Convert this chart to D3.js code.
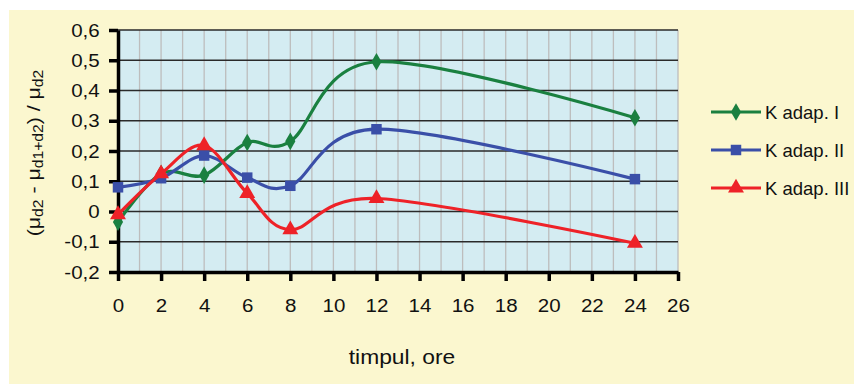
<!DOCTYPE html>
<html>
<head>
<meta charset="utf-8">
<script src="https://cdn.jsdelivr.net/npm/d3@7"></script>
<style>
  html, body { margin: 0; padding: 0; background: #fff; }
  text { font-family: "Liberation Sans", Arial, sans-serif; fill: #111; }
</style>
</head>
<body>
<div id="chart"></div>
<script>
// date
const hours = [0, 2, 4, 6, 8, 12, 24];
const seriesNames = ["K adap. I", "K adap. II", "K adap. III"];
const valuesI = [-0.035, 0.125, 0.12, 0.228, 0.232, 0.495, 0.31];
const valuesII = [0.08, 0.11, 0.185, 0.112, 0.085, 0.272, 0.107];
const valuesIII = [-0.01, 0.125, 0.218, 0.06, -0.06, 0.043, -0.105];
const xTicks = [0, 2, 4, 6, 8, 10, 12, 14, 16, 18, 20, 22, 24, 26];
const yTicks = [-0.2, -0.1, 0, 0.1, 0.2, 0.3, 0.4, 0.5, 0.6];

(function () {
    const width = 854;
    const height = 384;

    const svg = d3.select("#chart")
        .append("svg")
        .attr("width", width)
        .attr("height", height);

    // fundal crem
    svg.append("rect")
        .attr("x", 9).attr("y", 10)
        .attr("width", width - 9).attr("height", height - 10)
        .attr("fill", "#fbf7cf");

    const plot = { left: 118, right: 678, top: 30, bottom: 272 };

    const x = d3.scaleLinear().domain([0, 26]).range([plot.left, plot.right]);
    const y = d3.scaleLinear().domain([-0.2, 0.6]).range([plot.bottom, plot.top]);

    // zona graficului
    svg.append("rect")
        .attr("x", plot.left).attr("y", plot.top)
        .attr("width", plot.right - plot.left).attr("height", plot.bottom - plot.top)
        .attr("fill", "#d4ecf2");

    // grila verticala, la fiecare ora
    svg.append("g")
        .selectAll("line")
        .data(d3.range(1, 27))
        .enter().append("line")
        .attr("x1", d => x(d)).attr("x2", d => x(d))
        .attr("y1", plot.top).attr("y2", plot.bottom)
        .attr("stroke", "#bdbdbd")
        .attr("stroke-width", 1.3);

    // grila orizontala
    svg.append("g")
        .selectAll("line")
        .data(yTicks)
        .enter().append("line")
        .attr("x1", plot.left).attr("x2", plot.right)
        .attr("y1", d => y(d)).attr("y2", d => y(d))
        .attr("stroke", "#2a2a2a")
        .attr("stroke-width", 1.3);

    const fmt = d => d === 0 ? "0" : d.toFixed(1).replace(".", ",");

    // axa Y
    const yAxis = svg.append("g")
        .attr("transform", `translate(${plot.left},0)`)
        .call(d3.axisLeft(y).tickValues(yTicks).tickFormat(fmt).tickSize(9).tickSizeOuter(0).tickPadding(8));
    yAxis.select(".domain").attr("stroke", "#000").attr("stroke-width", 3.5);
    yAxis.selectAll(".tick line").attr("stroke", "#000").attr("stroke-width", 3.5);
    yAxis.selectAll(".tick text")
        .attr("font-size", 19)
        .attr("fill", "#111")
        .attr("transform", "scale(1.08,1)");

    // axa X
    const xAxis = svg.append("g")
        .attr("transform", `translate(0,${plot.bottom})`)
        .call(d3.axisBottom(x).tickValues(xTicks).tickSize(9).tickSizeOuter(0).tickPadding(18));
    xAxis.select(".domain").attr("stroke", "#000").attr("stroke-width", 3.5);
    xAxis.selectAll(".tick line").attr("stroke", "#000").attr("stroke-width", 3.5);
    xAxis.selectAll(".tick text")
        .attr("font-size", 19)
        .attr("fill", "#111")
        .attr("transform", "scale(1.08,1)");

    // seriile
    const series = [
        { name: seriesNames[0], values: valuesI, color: "#1a8040", symbol: d3.symbolDiamond, size: 90 },
        { name: seriesNames[1], values: valuesII, color: "#3a4fa8", symbol: d3.symbolSquare, size: 110 },
        { name: seriesNames[2], values: valuesIII, color: "#ee2228", symbol: d3.symbolTriangle, size: 110 }
    ];

    const line = d3.line()
        .x((d, i) => x(hours[i]))
        .y(d => y(d))
        .curve(d3.curveCardinal.tension(0));

    series.forEach(s => {
        svg.append("path")
            .datum(s.values)
            .attr("d", line)
            .attr("fill", "none")
            .attr("stroke", s.color)
            .attr("stroke-width", 3.2);

        svg.append("g")
            .selectAll("path")
            .data(s.values)
            .enter().append("path")
            .attr("transform", (d, i) => `translate(${x(hours[i])},${y(d)})`)
            .attr("d", d3.symbol().type(s.symbol).size(s.size))
            .attr("fill", s.color);
    });

    // legenda
    const legend = svg.append("g").attr("transform", "translate(711,112)");
    series.forEach((s, i) => {
        const row = legend.append("g").attr("transform", `translate(0,${i * 38})`);
        row.append("line")
            .attr("x1", 0).attr("x2", 50)
            .attr("stroke", s.color).attr("stroke-width", 3.2);
        row.append("path")
            .attr("transform", "translate(25,0)")
            .attr("d", d3.symbol().type(s.symbol).size(s.size))
            .attr("fill", s.color);
        row.append("text")
            .attr("x", 54).attr("y", 6.5)
            .attr("font-size", 18.5)
            .text(s.name);
    });

    // titlul axei X
    svg.append("text")
        .attr("transform", "translate(402,364) scale(1.14,1)")
        .attr("text-anchor", "middle")
        .attr("font-size", 20)
        .text("timpul, ore");

    // titlul axei Y, cu indici
    const yTitle = svg.append("text")
        .attr("transform", "translate(40,153) rotate(-90) scale(1.12,1)")
        .attr("text-anchor", "middle")
        .attr("font-size", 19);
    const parts = [
        ["(μ", false], ["d2", true], [" - μ", false], ["d1+d2", true], [") / μ", false], ["d2", true]
    ];
    parts.forEach(p => {
        yTitle.append("tspan")
            .attr("font-size", p[1] ? 14 : 19)
            .attr("baseline-shift", p[1] ? "-3" : "0")
            .text(p[0]);
    });
})();
</script>
</body>
</html>
